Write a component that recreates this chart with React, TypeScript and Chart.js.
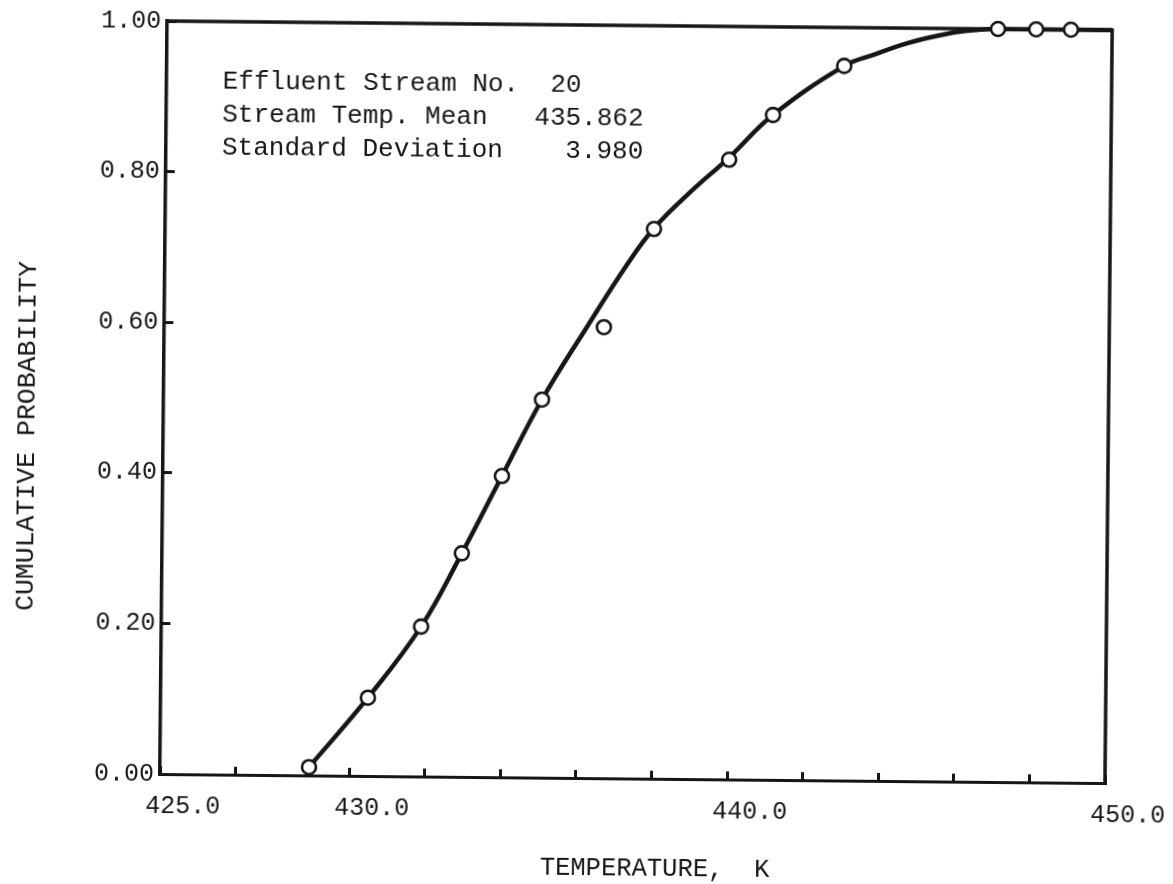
import React, { useEffect, useRef } from "react";
import { Chart, registerables } from "chart.js";

Chart.register(...registerables);

// Observed cumulative probabilities (circles)
const obsTemp = [428.94, 430.48, 431.87, 432.93, 433.97, 435.01, 436.63, 437.93, 439.9, 441.05, 442.92, 446.98, 447.99, 448.91];
const obsProb = [0.011, 0.104, 0.199, 0.297, 0.4, 0.502, 0.599, 0.73, 0.823, 0.883, 0.949, 1.0, 1.0, 1.0];

// Smooth fitted curve
const curveTemp = [428.94, 430.48, 431.87, 432.93, 433.97, 435.01, 436.18, 437.22, 437.93, 438.87, 439.9, 441.05, 442.92, 443.68, 444.58, 445.45, 446.11, 447.0, 448.0, 449.0, 450.0];
const curveProb = [0.011, 0.104, 0.199, 0.297, 0.4, 0.502, 0.599, 0.682, 0.731, 0.779, 0.826, 0.883, 0.949, 0.964, 0.98, 0.991, 0.997, 1.0, 1.0, 1.0, 1.0];

// Axis ticks
const xTickValues = [425, 427, 430, 432, 434, 436, 438, 440, 442, 444, 446, 448, 450];
const xLabelValues = [425, 430, 440, 450];
const yTickValues = [0, 0.2, 0.4, 0.6, 0.8, 1.0];

const noteLines = [
  "Effluent Stream No.  20",
  "Stream Temp. Mean   435.862",
  "Standard Deviation    3.980",
];

const INK = "#161616";
const FAMILY = "'Courier New', 'Liberation Mono', monospace";

export default function App() {
  const ref = useRef<HTMLCanvasElement>(null);

  useEffect(() => {
    const canvas = ref.current;
    if (!canvas) return;

    const framePlugin = {
      id: "frame",
      beforeDatasetsDraw(chart: any) {
        const { ctx, chartArea } = chart;
        const { left, top, right, bottom } = chartArea;
        ctx.save();
        ctx.strokeStyle = INK;
        ctx.lineWidth = 3.5;
        ctx.lineCap = "square";
        ctx.beginPath();
        ctx.moveTo(left, top);
        ctx.lineTo(right, top);
        ctx.lineTo(right, bottom);
        ctx.stroke();
        ctx.restore();
      },
    };

    const notePlugin = {
      id: "note",
      afterDraw(chart: any) {
        const { ctx, chartArea } = chart;
        ctx.save();
        ctx.fillStyle = INK;
        ctx.font = `26px ${FAMILY}`;
        ctx.textAlign = "left";
        ctx.textBaseline = "middle";
        noteLines.forEach((line, i) => {
          ctx.fillText(line, chartArea.left + 56, chartArea.top + 60 + i * 33);
        });
        ctx.restore();
      },
    };

    const chart = new Chart(canvas, {
      type: "scatter",
      data: {
        datasets: [
          {
            type: "scatter",
            label: "Observed",
            data: obsTemp.map((x, i) => ({ x, y: obsProb[i] })),
            pointRadius: 7,
            pointBackgroundColor: "#ffffff",
            pointBorderColor: INK,
            pointBorderWidth: 2.6,
            order: 0,
            clip: false,
          } as any,
          {
            type: "line",
            label: "Curve",
            data: curveTemp.map((x, i) => ({ x, y: curveProb[i] })),
            borderColor: INK,
            borderWidth: 4.5,
            pointRadius: 0,
            tension: 0.4,
            fill: false,
            order: 1,
            clip: false,
          } as any,
        ],
      },
      options: {
        responsive: false,
        animation: false,
        devicePixelRatio: 1,
        events: [],
        layout: { padding: { top: 21, right: 68, bottom: 0, left: 0 } },
        plugins: {
          legend: { display: false },
          tooltip: { enabled: false },
        },
        scales: {
          x: {
            type: "linear",
            position: "bottom",
            min: 425,
            max: 450,
            afterBuildTicks: (s: any) => {
              s.ticks = xTickValues.map((v) => ({ value: v }));
            },
            afterFit: (s: any) => {
              s.height = 110;
              s.paddingLeft = 0;
              s.paddingRight = 0;
            },
            grid: {
              display: true,
              drawOnChartArea: false,
              drawTicks: true,
              tickLength: -8,
              tickWidth: 3,
              tickColor: INK,
            },
            border: { display: true, color: INK, width: 3 },
            ticks: {
              padding: 25,
              labelOffset: 23,
              maxRotation: 0,
              autoSkip: false,
              color: INK,
              font: { family: FAMILY, size: 25 },
              callback: (v: any) => (xLabelValues.includes(Number(v)) ? Number(v).toFixed(1) : ""),
            },
            title: {
              display: true,
              text: "   TEMPERATURE,  K",
              color: INK,
              font: { family: FAMILY, size: 25.5 },
              padding: { top: 0, bottom: 4.5 },
            },
          },
          y: {
            type: "linear",
            position: "left",
            min: 0,
            max: 1,
            afterBuildTicks: (s: any) => {
              s.ticks = yTickValues.map((v) => ({ value: v }));
            },
            afterFit: (s: any) => {
              s.width = 160;
              s.paddingTop = 0;
              s.paddingBottom = 0;
            },
            grid: {
              display: true,
              drawOnChartArea: false,
              drawTicks: true,
              tickLength: -9,
              tickWidth: 3,
              tickColor: INK,
            },
            border: { display: true, color: INK, width: 3.5 },
            ticks: {
              padding: 15,
              color: INK,
              font: { family: FAMILY, size: 25 },
              callback: (v: any) => Number(v).toFixed(2),
            },
            title: {
              display: true,
              text: "CUMULATIVE PROBABILITY     ",
              color: INK,
              font: { family: FAMILY, size: 26.5 },
              padding: { top: 8, bottom: 0 },
            },
          },
        },
      } as any,
      plugins: [framePlugin, notePlugin],
    });

    return () => chart.destroy();
  }, []);

  return (
    <div style={{ position: "fixed", left: 0, top: 0, width: 1173, height: 884, background: "#ffffff" }}>
      <canvas
        ref={ref}
        width={1173}
        height={884}
        style={{
          display: "block",
          width: 1173,
          height: 884,
          transform: "rotate(0.55deg)",
          transformOrigin: "160px 774px",
        }}
      />
    </div>
  );
}
